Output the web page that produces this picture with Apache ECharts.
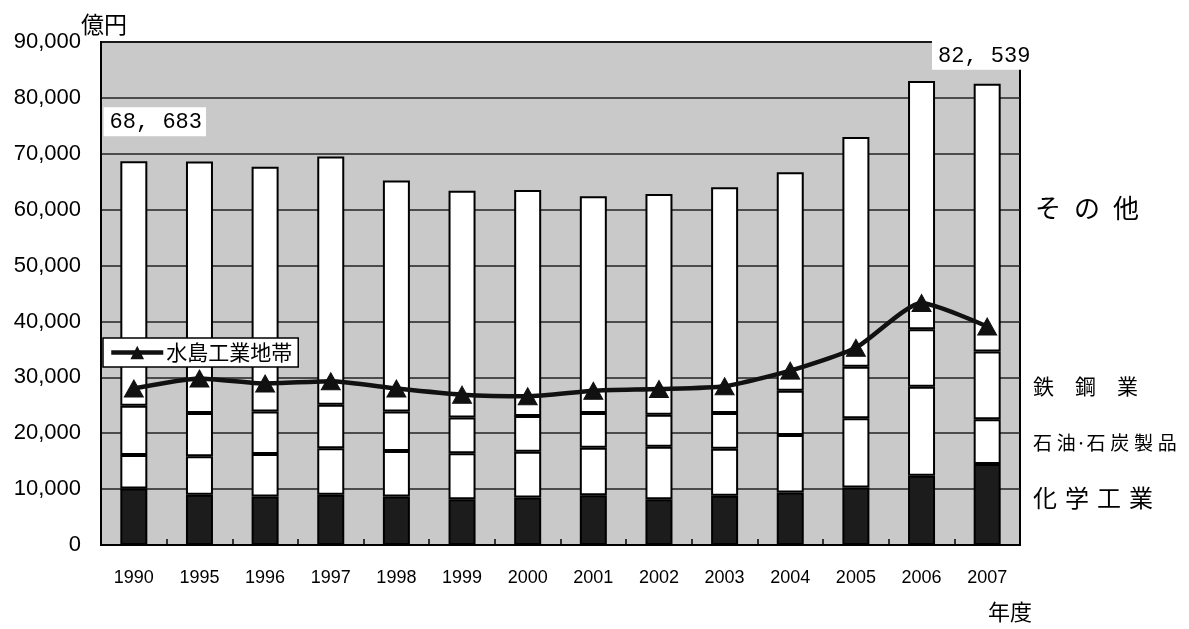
<!DOCTYPE html>
<html>
<head>
<meta charset="utf-8">
<script src="https://cdn.jsdelivr.net/npm/echarts@6/dist/echarts.min.js"></script>
<style>
  html, body { margin: 0; padding: 0; background: #fff; }
  #chart { width: 1189px; height: 629px; }
</style>
</head>
<body>
<div id="chart"></div>
<script>
// 年度
const years = ['1990', '1995', '1996', '1997', '1998', '1999', '2000', '2001', '2002', '2003', '2004', '2005', '2006', '2007'];

// 製造品出荷額等 (億円)
const totals    = [68683, 68600, 67700, 69500, 65200, 63400, 63500, 62400, 62800, 64000, 66700, 73000, 83000, 82539];
const chemical  = [10100, 9000, 8700, 9000, 8700, 8200, 8500, 8900, 8200, 8800, 9400, 10300, 12400, 14500];
const petroleum = [6000, 6900, 7600, 8300, 8100, 8200, 8200, 8500, 9400, 8400, 10300, 12400, 15900, 8000];
const steel     = [8800, 7700, 7600, 7800, 7100, 6400, 6400, 6200, 5700, 6400, 7900, 9200, 10300, 12100];

// 水島工業地帯
const mizushima = [28000, 29800, 28900, 29300, 28000, 26900, 26600, 27600, 27900, 28400, 31200, 35300, 43300, 39100];

const yTicks = [0, 10000, 20000, 30000, 40000, 50000, 60000, 70000, 80000, 90000];

// その他 = 合計 − 3業種
const others = totals.map((t, i) => t - chemical[i] - petroleum[i] - steel[i]);

const fmtTotal = v => String(v).replace(/\B(?=(\d{3})+(?!\d))/g, ', ');

const chart = echarts.init(document.getElementById('chart'));

const barBase = {
  type: 'bar',
  stack: 'total',
  barWidth: 27,
  itemStyle: { color: '#ffffff', borderColor: '#000', borderWidth: 2 },
  emphasis: { disabled: true }
};

const totalLabel = {
  show: true,
  position: 'top',
  fontFamily: 'Liberation Mono',
  fontSize: 22,
  color: '#000',
  backgroundColor: '#fff',
  padding: [4, 4, 3, 6],
  formatter: p => fmtTotal(totals[p.dataIndex])
};

const otherData = others.map((v, i) => {
  if (i === 0) return { value: v, label: Object.assign({}, totalLabel, { offset: [21, -20] }) };
  if (i === others.length - 1) return { value: v, label: Object.assign({}, totalLabel, { offset: [-4, -9] }) };
  return v;
});

chart.setOption({
  animation: false,
  textStyle: { fontFamily: 'Liberation Sans, Noto Sans CJK JP, sans-serif' },
  grid: {
    left: 101, right: 169, top: 42, bottom: 84,
    show: true, backgroundColor: '#c9c9c9', borderColor: '#000', borderWidth: 2
  },
  legend: {
    data: ['水島工業地帯'],
    left: 103, top: 338,
    orient: 'horizontal',
    backgroundColor: '#fff',
    borderColor: '#000', borderWidth: 1.5,
    padding: [4, 6, 4, 6],
    itemWidth: 52, itemHeight: 17,
    itemGap: 4,
    lineStyle: { width: 4.5 },
    textStyle: { fontFamily: 'Noto Sans CJK JP', fontSize: 21, color: '#000', padding: [0, 0, 0, -2] }
  },
  xAxis: {
    type: 'category',
    data: years,
    axisLine: { lineStyle: { color: '#000', width: 2 } },
    axisTick: { show: true, inside: true, length: 6, lineStyle: { color: '#000', width: 1.5 } },
    axisLabel: { fontSize: 18, color: '#000', margin: 24, fontFamily: 'Liberation Sans' }
  },
  yAxis: {
    type: 'value',
    min: yTicks[0], max: yTicks[yTicks.length - 1], interval: yTicks[1] - yTicks[0],
    axisLine: { show: true, lineStyle: { color: '#000', width: 2 } },
    axisTick: { show: false },
    splitLine: { lineStyle: { color: '#222', width: 1.5 } },
    axisLabel: {
      fontSize: 22, color: '#000', margin: 20, fontFamily: 'Liberation Sans',
      formatter: v => v.toLocaleString('en-US')
    }
  },
  series: [
    Object.assign({}, barBase, { name: '化学工業', data: chemical, itemStyle: { color: '#1c1c1c', borderColor: '#000', borderWidth: 2 } }),
    Object.assign({}, barBase, { name: '石油・石炭製品', data: petroleum }),
    Object.assign({}, barBase, { name: '鉄鋼業', data: steel }),
    Object.assign({}, barBase, { name: 'その他', data: otherData }),
    {
      name: '水島工業地帯',
      type: 'line',
      data: mizushima,
      smooth: 0.2,
      z: 10,
      symbol: 'triangle',
      symbolSize: [19, 17],
      lineStyle: { color: '#111', width: 4.5 },
      itemStyle: { color: '#111', borderColor: '#111' },
      emphasis: { disabled: true }
    }
  ],
  graphic: [
    { type: 'text', left: 81, top: 13, style: { text: '億円', fontSize: 23, fontFamily: 'Noto Sans CJK JP', fill: '#000' } },
    { type: 'text', left: 988, top: 601, style: { text: '年度', fontSize: 22, fontFamily: 'Noto Sans CJK JP', fill: '#000' } },
    { type: 'text', left: 1035, top: 195, style: { text: 'そ\u2002の\u2002他', fontSize: 26, fontFamily: 'Noto Sans CJK JP', fill: '#000' } },
    { type: 'text', left: 1033, top: 376, style: { text: '鉄\u3000鋼\u3000業', fontSize: 21, fontFamily: 'Noto Sans CJK JP', fill: '#000' } },
    { type: 'text', left: 1033, top: 433, style: { text: '石\u2005油·石\u2005炭\u2005製\u2005品', fontSize: 19, fontFamily: 'Noto Sans CJK JP', fill: '#000' } },
    { type: 'text', left: 1033, top: 486, style: { text: '化\u2004学\u2004工\u2004業', fontSize: 24, fontFamily: 'Noto Sans CJK JP', fill: '#000' } }
  ]
});
</script>
</body>
</html>
